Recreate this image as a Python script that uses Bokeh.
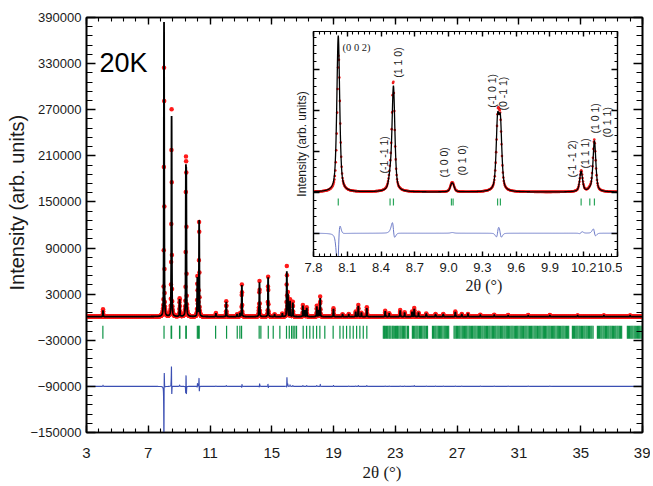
import numpy as np
from bokeh.plotting import figure
from bokeh.models import (LinearAxis, FixedTicker, Label, Range1d, PrintfTickFormatter,
                          BasicTickFormatter, CustomLabelingPolicy, Title)
from bokeh.embed import file_html
from bokeh.resources import INLINE

# ---------------- data ----------------
# Bragg peaks: 2theta position (deg), calculated height, observed height, observed offset (deg)
peak_pos = [4.07, 8.02, 8.48, 8.51, 9.025, 9.04, 9.435, 9.46, 10.177, 10.254,
            10.295, 11.38, 12.05, 12.75, 12.93, 13.06, 14.16, 14.20, 14.76, 15.18,
            15.68, 15.97, 16.04, 16.18, 16.36, 17.01, 17.13, 17.26, 17.91, 18.03,
            18.13, 18.99, 19.58, 19.98, 20.43, 20.60, 20.80, 21.15, 22.34, 22.60,
            23.31, 23.60, 24.08, 24.22, 24.50, 25.00, 25.60, 26.10, 26.88, 27.30,
            27.70, 28.50, 29.40, 30.30, 31.60, 33.00, 34.80, 36.50, 38.20]
calc_height = [8000, 383000, 25000, 257000, 14000, 13000, 160000, 155000, 50000, 4000,
               125000, 4000, 19000, 3000, 4000, 41000, 8000, 44000, 51000, 3000,
               4000, 58000, 28000, 20000, 18000, 14000, 8000, 11000, 13000, 8000,
               24000, 10000, 3000, 3000, 6000, 14000, 5000, 11000, 7000, 4000,
               8000, 5000, 6000, 10000, 5000, 3500, 3000, 3000, 6000, 3000,
               3500, 2000, 2000, 1500, 1500, 1500, 1500, 1500, 1500]
obs_height = [9500, 335000, 27000, 268000, 15000, 14000, 162000, 148000, 52000, 4000,
              128000, 4500, 20000, 3000, 4000, 42000, 8000, 46000, 52000, 3000,
              4000, 66000, 30000, 22000, 19000, 15000, 8000, 12000, 14000, 8000,
              26000, 11000, 3000, 3500, 6500, 15000, 5000, 12000, 7500, 4500,
              8500, 5500, 6500, 11000, 5000, 4000, 3500, 3500, 6500, 3500,
              3500, 2500, 2500, 2000, 2000, 2000, 1500, 1500, 1500]
obs_shift = [0, 0.003, 0, -0.0015, 0, 0, 0.0015, -0.001, 0.001, 0,
             -0.0015, 0, 0, 0, 0, 0.001, 0, 0.001, -0.001, 0,
             0, 0.002, -0.001, 0, 0, 0, 0, 0, 0, 0,
             0.001, 0, 0, 0, 0, 0, 0, 0, 0, 0,
             0, 0, 0, 0, 0, 0, 0, 0, 0, 0,
             0, 0, 0, 0, 0, 0, 0, 0, 0]
background = 800.0
peak_fwhm = 0.03

# reflection (hkl) marker positions
refl_pos = [4.06, 8.02, 8.48, 8.51, 9.025, 9.04, 9.435, 9.46, 10.177, 10.254, 10.295,
            11.36, 12.07, 12.76, 12.93, 13.04, 14.18, 14.29, 14.77, 15.09, 15.52,
            15.95, 16.13, 16.28, 16.38, 16.49, 16.60, 17.03, 17.25, 17.46, 17.68,
            17.90, 18.11, 18.43, 18.97, 19.41, 19.62, 19.84, 20.06, 20.27, 20.49,
            20.70, 20.92, 21.15,
            22.22, 22.29, 22.35, 22.43, 22.50, 22.58, 22.64, 22.71, 22.80, 22.86,
            22.93, 23.01, 23.08, 23.14, 23.22, 23.30, 23.37, 23.45, 23.52, 23.60,
            23.68, 23.78, 23.85,
            24.10, 24.17, 24.25, 24.33, 24.40, 24.47, 24.56, 24.63, 24.70, 24.78,
            24.86, 24.93, 25.02, 25.08,
            25.40, 25.47, 25.55, 25.62, 25.70, 25.78, 25.85, 25.93, 26.00, 26.08,
            26.16, 26.23, 26.30, 26.38, 26.45,
            26.80, 26.87, 26.95, 27.02, 27.10, 27.17, 27.25, 27.33, 27.40, 27.48,
            27.55, 27.62, 27.70, 27.78, 27.85, 27.93, 28.00, 28.08, 28.15, 28.22,
            28.30, 28.38, 28.45, 28.52, 28.60, 28.67, 28.75, 28.82, 28.90, 28.97,
            29.05, 29.12, 29.20, 29.28, 29.35, 29.43, 29.50, 29.58, 29.65, 29.72,
            29.80, 29.88, 29.95, 30.03, 30.10, 30.18, 30.25, 30.32, 30.40, 30.48,
            30.55, 30.62, 30.70, 30.78, 30.85, 30.92, 31.00, 31.08, 31.15, 31.22,
            31.30, 31.38, 31.45, 31.52, 31.60, 31.68, 31.75, 31.82, 31.90, 31.98,
            32.05, 32.12, 32.20, 32.28, 32.35, 32.42, 32.50, 32.58, 32.65, 32.72,
            32.80, 32.88, 32.95, 33.02, 33.10, 33.18, 33.25, 33.32, 33.40, 33.48,
            33.55, 33.62, 33.70, 33.78, 33.85, 33.92, 34.00, 34.08, 34.15, 34.22,
            34.46, 34.53, 34.60, 34.68, 34.75, 34.82, 34.90, 34.97, 35.05, 35.12,
            35.20, 35.27, 35.35, 35.42, 35.50, 35.57, 35.65, 35.72, 35.80,
            36.08, 36.15, 36.22, 36.30, 36.37, 36.45, 36.52, 36.60, 36.67, 36.75,
            36.82, 36.90, 36.97, 37.05, 37.12, 37.20, 37.27, 37.35, 37.42, 37.50,
            37.57, 37.65,
            38.02, 38.09, 38.16, 38.24, 38.31, 38.38, 38.46, 38.53, 38.60, 38.68,
            38.75, 38.82, 38.90, 38.97]

x_ticks = [3, 7, 11, 15, 19, 23, 27, 31, 35, 39]
y_ticks = [-150000, -90000, -30000, 30000, 90000, 150000, 210000, 270000, 330000, 390000]
inset_x_ticks = [7.8, 8.1, 8.4, 8.7, 9.0, 9.3, 9.6, 9.9, 10.2, 10.5]
inset_y_ticks = [-100000, 0, 100000, 200000, 300000]

# hkl labels of the inset
hkl_text = ["(0 0 2)", "(1 1 0)", "(-1 -1 1)", "(1 0 0)", "(0 1 0)", "(-1 0 1)",
            "(0 -1 1)", "(-1 -1 2)", "(1 1 1)", "(1 0 1)", "(0 1 1)"]
hkl_x = [8.058, 8.552, 8.422, 8.955, 9.123, 9.381, 9.487, 10.10, 10.215, 10.304, 10.41]
hkl_y = [354000, 281000, 46000, 36500, 41500, 207000, 200500, 36500, 58500, 144000, 134500]
hkl_vertical = [False, True, True, True, True, True, True, True, True, True, True]

main_diff_offset = -90000
inset_diff_offset = -100000

# ---------------- profile model built from the peak table ----------------
def profile(x, pos, height, shift):
    y = np.full_like(x, background)
    hw = peak_fwhm / 2.0
    for p0, h, dx in zip(pos, height, shift):
        d = (x - p0 - dx) / hw
        y += h * (0.6 / (1.0 + d * d) + 0.4 * np.exp(-np.log(2.0) * d * d))
    return y

xg = np.arange(3.0, 39.0005, 0.002)
zeros = [0.0] * len(peak_pos)
calc = profile(xg, peak_pos, calc_height, zeros)
obs = profile(xg, peak_pos, obs_height, obs_shift)
diff = obs - calc

FONT = "Liberation Sans"
SERIF = "Liberation Serif"
HIDE = """
try { for (const i of Array.from(indices)) { indices.unset(i) } } catch (e) {}
return indices
"""


def style_axis(ax, ticker, major_in, minor_in, show_labels, size, standoff):
    ax.ticker = ticker
    ax.major_tick_in = major_in
    ax.major_tick_out = 0
    ax.minor_tick_in = minor_in
    ax.minor_tick_out = 0
    ax.axis_line_width = 1.6
    ax.axis_line_color = "black"
    ax.major_tick_line_width = 1.4
    ax.minor_tick_line_width = 1.1
    ax.major_label_text_font = FONT
    ax.major_label_text_color = "#1a1a1a"
    ax.major_label_standoff = standoff
    if show_labels:
        ax.major_label_text_font_size = size
    else:
        ax.major_label_text_font_size = "0px"
        ax.major_label_policy = CustomLabelingPolicy(code=HIDE)


# ---------------- main figure ----------------
p = figure(width=650, height=485, x_range=Range1d(3, 39), y_range=Range1d(-150000, 390000),
           output_backend="svg", toolbar_location=None, x_axis_type=None, y_axis_type=None,
           min_border_left=86, min_border_right=8, min_border_top=17, min_border_bottom=53,
           outline_line_color="black", outline_line_width=1.6,
           background_fill_color="white", border_fill_color="white")

mx_minor = [3 + 0.8 * i for i in range(46)]
my_minor = [-150000 + 12000 * i for i in range(46)]
for loc, show in (("below", True), ("above", False)):
    ax = LinearAxis()
    style_axis(ax, FixedTicker(ticks=x_ticks, minor_ticks=mx_minor), 7, 4, show, "15px", 15)
    p.add_layout(ax, loc)
for loc, show in (("left", True), ("right", False)):
    ax = LinearAxis(formatter=BasicTickFormatter(use_scientific=False))
    style_axis(ax, FixedTicker(ticks=y_ticks, minor_ticks=my_minor), 9, 6, show, "13px", 5)
    p.add_layout(ax, loc)

p.add_layout(Title(text="Intensity (arb. units)", align="left", offset=142, standoff=0,
                   text_font=FONT, text_font_size="20px", text_font_style="normal",
                   text_color="#1a1a1a"), "left")
p.add_layout(Title(text="2\u03b8 (\u00b0)", align="left", offset=276, standoff=0,
                   text_font=SERIF, text_font_size="17px", text_font_style="normal",
                   text_color="#1a1a1a"), "below")

xo = xg[::5]
yo = obs[::5]
p.scatter(xo, yo, size=4.5, fill_color="#ff1a1a", line_color=None)
p.line(xg, calc, line_color="black", line_width=1.8)
p.segment(x0=refl_pos, y0=[-11000] * len(refl_pos), x1=refl_pos, y1=[-28000] * len(refl_pos),
          line_color="#0e9447", line_width=1.2)
p.line(xg, diff + main_diff_offset, line_color="#3b4fb3", line_width=1.1)

p.add_layout(Label(x=3.84, y=331000, text="20K", text_font=FONT, text_font_size="27px",
                   text_color="black", text_align="left", text_baseline="alphabetic"))

# ---------------- inset figure ----------------
inset = figure(width=335, height=274, x_range=Range1d(7.8, 10.5), y_range=Range1d(-157000, 394000),
               output_backend="svg", toolbar_location=None, x_axis_type=None, y_axis_type=None,
               min_border_left=26, min_border_right=5, min_border_top=7, min_border_bottom=42,
               outline_line_color="black", outline_line_width=1.2,
               background_fill_color="white", border_fill_color=None,
               styles={"position": "absolute", "left": "287px", "top": "24px"})

ix_minor = [7.8 + 0.05 * i for i in range(55)]
iy_minor = [-140000 + 20000 * i for i in range(27)]
for loc, show in (("below", True), ("above", False)):
    ax = LinearAxis(formatter=PrintfTickFormatter(format="%.1f"))
    style_axis(ax, FixedTicker(ticks=inset_x_ticks, minor_ticks=ix_minor), 5, 3, show, "13px", 6)
    ax.axis_line_width = 1.2
    inset.add_layout(ax, loc)
for loc in ("left", "right"):
    ax = LinearAxis()
    style_axis(ax, FixedTicker(ticks=inset_y_ticks, minor_ticks=iy_minor), 6, 3, False, "0px", 0)
    ax.axis_line_width = 1.2
    inset.add_layout(ax, loc)

inset.add_layout(Title(text="Intensity (arb. units)", align="center", standoff=10,
                       text_font=FONT, text_font_size="12px", text_font_style="normal",
                       text_color="#1a1a1a"), "left")
inset.add_layout(Title(text="2\u03b8 (\u00b0)", align="left", offset=152, standoff=0,
                       text_font=SERIF, text_font_size="16px", text_font_style="normal",
                       text_color="#1a1a1a"), "below")

sel = (xg >= 7.7) & (xg <= 10.6)
xi = xg[sel]
inset.scatter(xi[::2], obs[sel][::2], size=2.6, fill_color="#ee1c1c", line_color=None)
inset.line(xi, calc[sel], line_color="black", line_width=1.3)
refl_in = [r for r in refl_pos if 7.8 <= r <= 10.5]
inset.segment(x0=refl_in, y0=[-15000] * len(refl_in), x1=refl_in, y1=[-32000] * len(refl_in),
              line_color="#2aa55a", line_width=1.2)
inset.line(xi, diff[sel] + inset_diff_offset, line_color="#6a78c6", line_width=1.0)

for t, hx, hy, vert in zip(hkl_text, hkl_x, hkl_y, hkl_vertical):
    if vert:
        inset.add_layout(Label(x=hx, y=hy, text=t, angle=np.pi / 2, text_font=FONT,
                               text_font_size="10.5px", text_color="#1a1a1a",
                               text_align="left", text_baseline="middle"))
    else:
        inset.add_layout(Label(x=hx, y=hy, text=t, text_font=SERIF,
                               text_font_size="10.5px", text_color="#1a1a1a",
                               text_align="left", text_baseline="alphabetic"))

open("out.html", "w").write(file_html([p, inset], INLINE))
